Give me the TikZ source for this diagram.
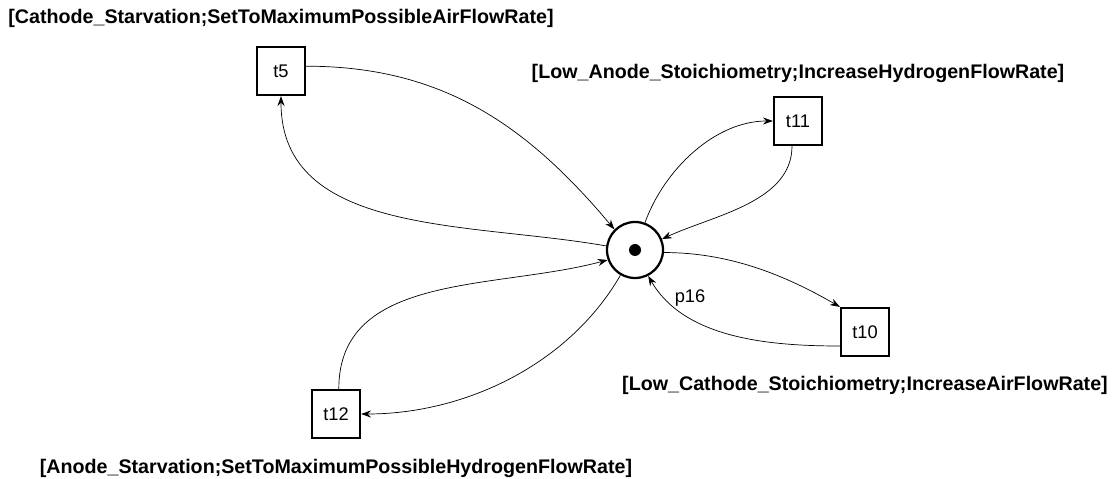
\documentclass[tikz,border=0pt]{standalone}
\usepackage{fontspec}
\setmainfont{Liberation Sans}
\usetikzlibrary{arrows.meta,positioning,calc}

\begin{document}
\begin{tikzpicture}[
    >=Stealth,
    place/.style={
      circle, draw=black, line width=1.6pt, fill=white,
      minimum size=1.4cm, inner sep=0pt,
    },
    trans/.style={
      draw=black, line width=1.6pt, fill=white,
      minimum size=1.2cm, inner sep=0pt,
      font=\fontsize{13}{15}\selectfont,
    },
    arc/.style={-{Stealth[length=7pt,width=5pt]}, line width=0.5pt, black},
    rulelabel/.style={
      font=\fontsize{14}{16}\selectfont\bfseries, text=black, inner sep=0pt,
    },
  ]

  % fixed frame of the picture
  \useasboundingbox (0,0) rectangle (27.9,11.975);

  % =================== Place and transitions ===================
  \node[place] (p16) at (15.875, 5.725) {};
  \fill[black] (p16.center) circle (0.15);
  \node[font=\fontsize{13}{15}\selectfont, inner sep=0pt] (p16lbl) at (17.25, 4.525) {p16};

  \node[trans] (t5)  at (7.025, 10.2)  {t5};
  \node[trans] (t11) at (19.95, 8.95)  {t11};
  \node[trans] (t10) at (21.625, 3.675) {t10};
  \node[trans] (t12) at (8.4, 1.625)   {t12};

  % Rule labels
  \node[rulelabel, above=0.45cm of t5] (l5) {[Cathode\_Starvation;SetToMaximumPossibleAirFlowRate]};
  \node[rulelabel, above=0.33cm of t11] (l11) {[Low\_Anode\_Stoichiometry;IncreaseHydrogenFlowRate]};
  \node[rulelabel, below=0.47cm of t10] (l10) {[Low\_Cathode\_Stoichiometry;IncreaseAirFlowRate]};
  \node[rulelabel, below=0.5cm of t12] (l12) {[Anode\_Starvation;SetToMaximumPossibleHydrogenFlowRate]};

  % =================== Arcs ===================
  % t5 loop
  \draw[arc] ([yshift=0.12cm]t5.east) to[out=0, in=130, looseness=1.0] (p16.135);
  \draw[arc] (p16.172) to[out=170, in=-90, looseness=1.0] (t5.south);

  % t11 loop
  \draw[arc] (p16.70) to[out=70, in=180, looseness=0.9] (t11.west);
  \draw[arc] ([xshift=-0.15cm]t11.south) to[out=-90, in=25, looseness=0.9] (p16.22);

  % t10 loop
  \draw[arc] (p16.-5) to[out=0, in=150, looseness=0.9] (t10.north west);
  \draw[arc] ([yshift=-0.35cm]t10.west) to[out=180, in=-60, looseness=0.9] (p16.-63);

  % t12 loop
  \draw[arc] ([xshift=0.07cm]t12.north) to[out=90, in=195, looseness=1.0] (p16.200);
  \draw[arc] (p16.-120) to[out=-120, in=0, looseness=0.9] (t12.east);

\end{tikzpicture}
\end{document}
